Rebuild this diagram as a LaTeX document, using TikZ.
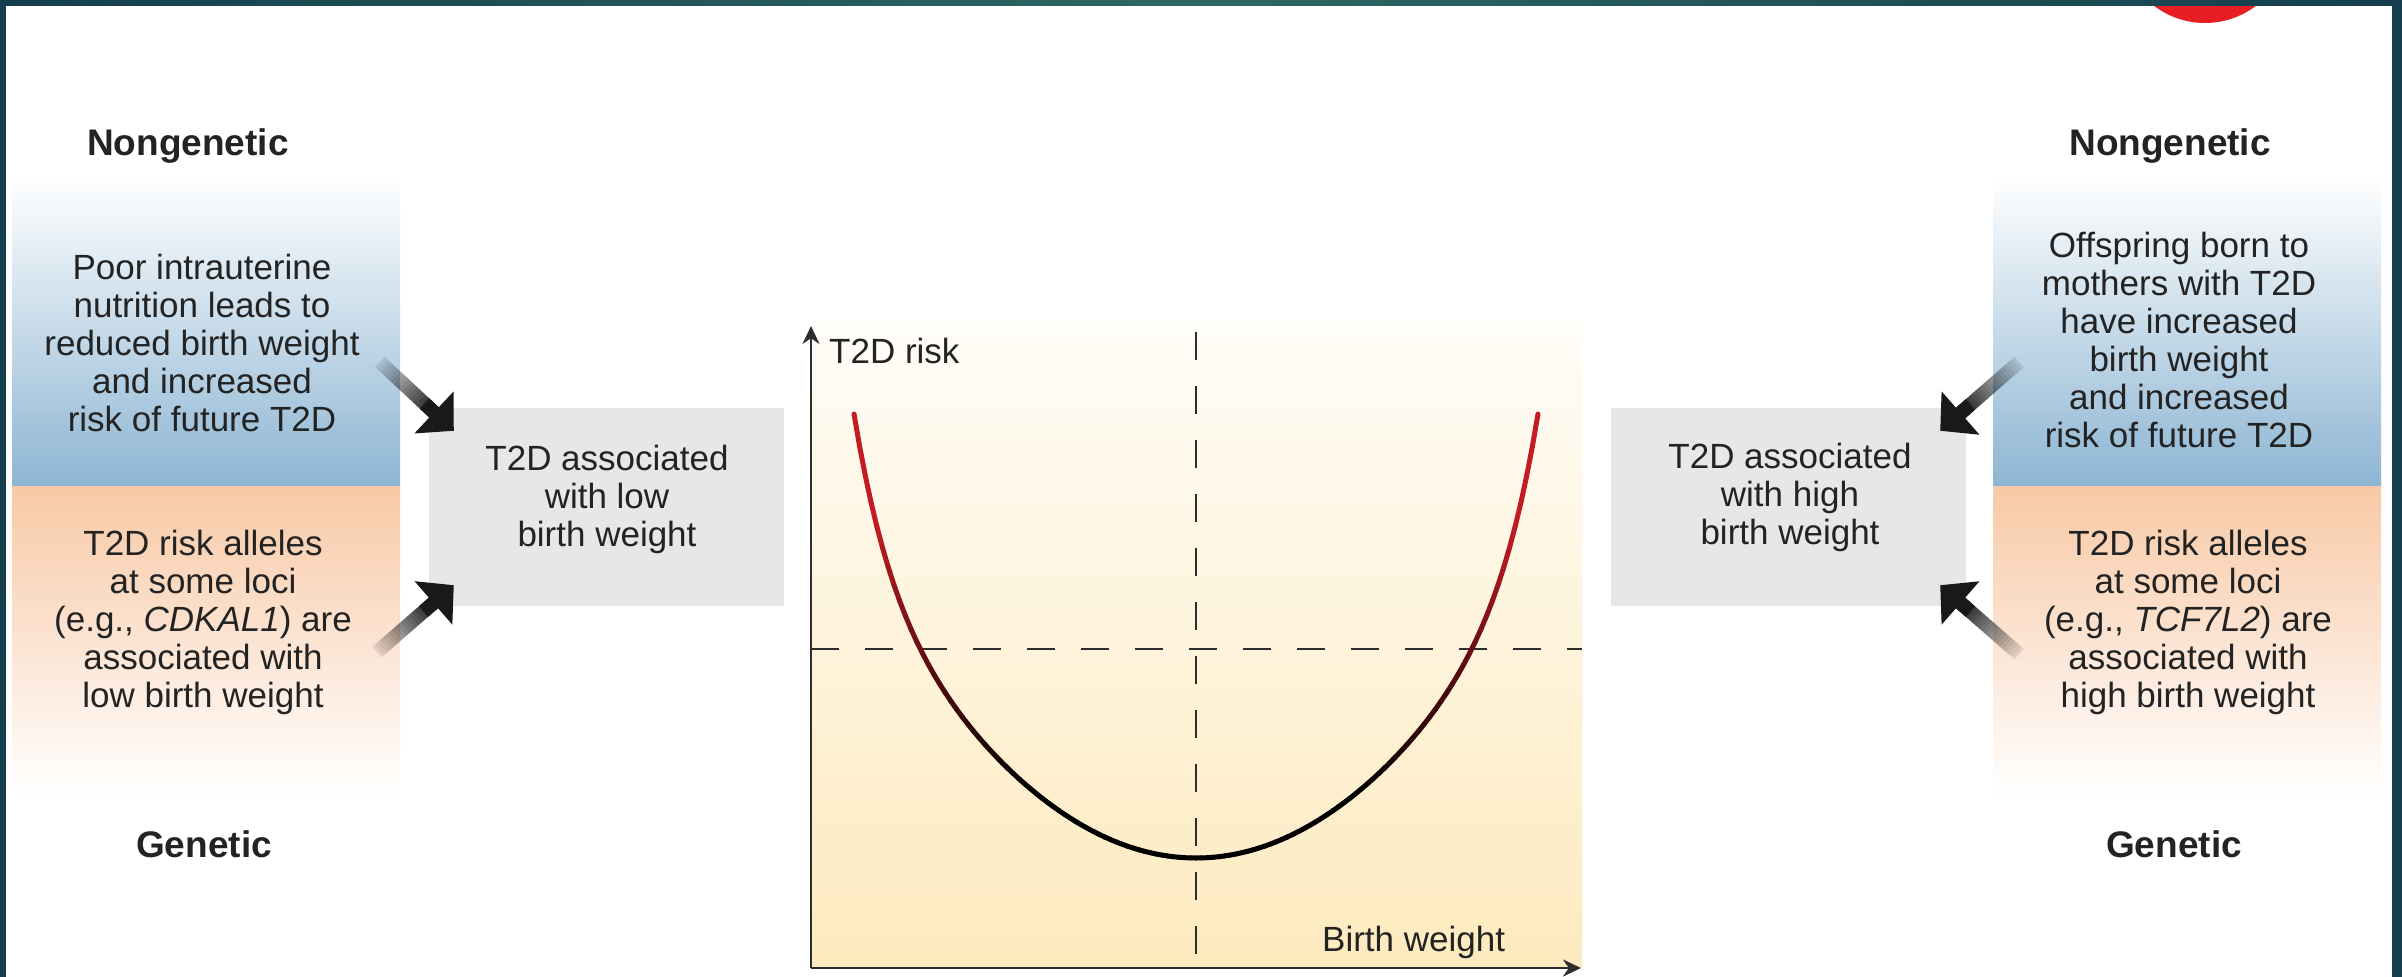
\documentclass[tikz,border=0pt]{standalone}
\usepackage{fontspec}
\setmainfont{Liberation Sans}
\usetikzlibrary{arrows.meta,calc}
\definecolor{frame}{RGB}{20,62,76}
\definecolor{framemid}{RGB}{46,104,100}
\definecolor{nbl}{RGB}{141,181,211}
\definecolor{npeach}{RGB}{248,201,166}
\definecolor{boxgray}{RGB}{230,231,233}
\definecolor{ylw}{RGB}{253,234,190}
\definecolor{ylwtop}{RGB}{255,253,248}
\definecolor{crv}{RGB}{196,28,36}
\definecolor{axisc}{RGB}{45,45,45}
\definecolor{txtc}{RGB}{35,35,35}
\definecolor{logored}{RGB}{232,30,34}
\newcommand{\gradarrow}[2]{%
  \coordinate (#1base) at ($(#2)!27pt!(#1)$);
  \foreach \k in {0,...,19} {
    \pgfmathsetmacro{\op}{0.10+0.80*\k/19}
    \pgfmathsetmacro{\ta}{\k/20}
    \pgfmathsetmacro{\tb}{(\k+1)/20}
    \draw[line width=14pt, black, opacity=\op] ($(#1)!\ta!(#1base)$) -- ($(#1)!\tb!(#1base)$);
  }
  \draw[black!90, line width=14pt, -{Triangle[length=27pt,width=56pt]}] ($(#2)!40pt!(#1)$) -- (#2);
}
\begin{document}
\begin{tikzpicture}[x=1pt,y=-1pt,
  body/.style={align=center, font=\fontsize{35}{38}\selectfont, text=txtc, inner sep=0pt},
  headtxt/.style={font=\fontsize{37}{40}\selectfont\bfseries, text=txtc, inner sep=0pt, anchor=base},
  graybox/.style={fill=boxgray, minimum width=355pt, minimum height=198pt, inner sep=0pt, draw=none},
  dashln/.style={axisc, line width=2.5pt, dash pattern=on 28pt off 26pt},
  axisln/.style={axisc, line width=2.5pt, -{Stealth[length=18pt,width=17pt]}},
]
\useasboundingbox (0,0) rectangle (2402,977);
% frame
\fill[frame] (0,0) rectangle (2402,977);
\fill[white] (6,5) rectangle (2392,977);
\fill[logored] (2205,-61) circle[radius=84];
\shade[left color=frame, right color=frame, middle color=framemid] (0,0) rectangle (2402,5);
% side panels
\shade[top color=white, bottom color=nbl] (12,176) rectangle (400,486);
\shade[top color=npeach, bottom color=white] (12,486) rectangle (400,797);
\shade[top color=white, bottom color=nbl] (1993,176) rectangle (2381,486);
\shade[top color=npeach, bottom color=white] (1993,486) rectangle (2381,797);
% chart panel
\shade[top color=ylwtop, bottom color=ylw] (811,320) rectangle (1582,968);
% gray boxes
\node[graybox] (lbox) at (606,507) {};
\node[graybox] (rbox) at (1788,507) {};
\node[body] (ltext) at (607,499) {T2D associated\\with low\\birth weight};
\node[body] (rtext) at (1790,497) {T2D associated\\with high\\birth weight};
% headings
\node[headtxt] (hn1) at (188,155) {Nongenetic};
\node[headtxt] (hn2) at (2170,155) {Nongenetic};
\node[headtxt] (hg1) at (204,857) {Genetic};
\node[headtxt] (hg2) at (2174,857) {Genetic};
% panel texts
\node[body] (ltop) at (202,343) {Poor intrauterine\\nutrition leads to\\reduced birth weight\\and increased\\risk of future T2D};
\node[body] (lbot) at (203,622) {T2D risk alleles\\at some loci\\(e.g., \textit{CDKAL1}) are\\associated with\\low birth weight};
\node[body] (rtop) at (2179,340) {Offspring born to\\mothers with T2D\\have increased\\birth weight\\and increased\\risk of future T2D};
\node[body] (rbot) at (2188,622) {T2D risk alleles\\at some loci\\(e.g., \textit{TCF7L2}) are\\associated with\\high birth weight};
% arrows
\coordinate (alt) at (380,362);
\coordinate (alh) at ($(lbox.north west)+(25.5,23)$);
\coordinate (blt) at (377,652);
\coordinate (blh) at ($(lbox.south west)+(25.5,-21)$);
\coordinate (art) at (2019,362);
\coordinate (arh) at ($(rbox.north east)+(-25.5,23)$);
\coordinate (brt) at (2019,654);
\coordinate (brh) at ($(rbox.south east)+(-25.5,-21)$);
\gradarrow{alt}{alh}
\gradarrow{blt}{blh}
\gradarrow{art}{arh}
\gradarrow{brt}{brh}
% chart
\coordinate (O) at (811,968);
\coordinate (ytip) at (811,326);
\coordinate (xtip) at (1581,968);
\coordinate (vtop) at (1196,332);
\coordinate (vbot) at (1196,968);
\coordinate (hl) at (811,649);
\coordinate (hr) at (1582,649);
\draw[dashln] (vtop) -- (vbot);
\draw[dashln] (hl) -- (hr);
\foreach \i in {-60,...,59} {
  \pgfmathsetmacro{\ua}{\i/60}
  \pgfmathsetmacro{\ub}{(\i+1)/60}
  \pgfmathsetmacro{\sa}{\ua*\ua}
  \pgfmathsetmacro{\sb}{\ub*\ub}
  \pgfmathsetmacro{\dya}{295*\sa+149*\sa*\sa*\sa*\sa*\sa}
  \pgfmathsetmacro{\dyb}{295*\sb+149*\sb*\sb*\sb*\sb*\sb}
  \pgfmathsetmacro{\f}{100*max(0,min(1,((\dya+\dyb)/2-70)/260))}
  \draw[line width=5pt, line cap=round, color=crv!\f!black] (1196+342*\ua,858-\dya) -- (1196+342*\ub,858-\dyb);
}
\draw[axisln] (O) -- (ytip);
\draw[axisln] (O) -- (xtip);
\node[body, anchor=base west] (ylab) at (829,363) {T2D risk};
\node[body, anchor=base west] (xlab) at (1322,951) {Birth weight};
\end{tikzpicture}
\end{document}
